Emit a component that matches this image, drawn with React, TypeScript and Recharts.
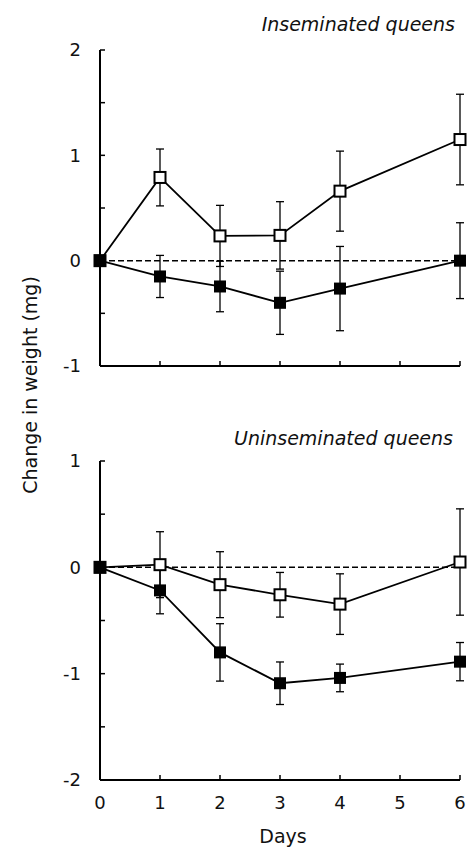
import { LineChart, Line, XAxis, YAxis, ErrorBar, ReferenceLine } from 'recharts';

// days sampled (no measurement on day 5)
const days = [0, 1, 2, 3, 4, 6];

// Inseminated queens
const insOpen = [0, 0.79, 0.235, 0.24, 0.66, 1.15];
const insOpenErr = [0, 0.27, 0.29, 0.32, 0.38, 0.43];
const insFilled = [0, -0.15, -0.245, -0.4, -0.265, 0];
const insFilledErr = [0, 0.2, 0.24, 0.3, 0.4, 0.36];

// Uninseminated queens
const unOpen = [0, 0.025, -0.163, -0.258, -0.346, 0.05];
const unOpenErr = [0, 0.31, 0.31, 0.21, 0.285, 0.5];
const unFilled = [0, -0.217, -0.8, -1.09, -1.04, -0.887];
const unFilledErr = [0, 0.22, 0.27, 0.2, 0.13, 0.18];

const xTicks = [0, 1, 2, 3, 4, 5, 6];
const topTicks = [-1, -0.5, 0, 0.5, 1, 1.5, 2];
const bottomTicks = [-2, -1.5, -1, -0.5, 0, 0.5, 1];

const FONT = '"DejaVu Sans", sans-serif';

const build = (open: number[], openErr: number[], filled: number[], filledErr: number[]) =>
  days.map((d, i) => ({
    day: d,
    open: open[i],
    openErr: openErr[i],
    filled: filled[i],
    filledErr: filledErr[i],
  }));

const topData = build(insOpen, insOpenErr, insFilled, insFilledErr);
const bottomData = build(unOpen, unOpenErr, unFilled, unFilledErr);

const OpenSquare = (props: any) => {
  const { cx, cy, index } = props;
  if (cx == null || cy == null) return <g key={`o${index}`} />;
  return (
    <rect key={`o${index}`} x={cx - 5.5} y={cy - 5.5} width={11} height={11}
      fill="#fff" stroke="#000" strokeWidth={2} />
  );
};

const FilledSquare = (props: any) => {
  const { cx, cy, index } = props;
  if (cx == null || cy == null) return <g key={`f${index}`} />;
  return <rect key={`f${index}`} x={cx - 6} y={cy - 6} width={12} height={12} fill="#000" />;
};

const intOnly = (v: number) => (Number.isInteger(v) ? String(v) : '');

function Panel({ data, domain, ticks, showX, height, margin }: any) {
  return (
    <LineChart width={467} height={height} data={data} margin={margin}>
      <XAxis
        dataKey="day"
        type="number"
        domain={[0, 6]}
        ticks={xTicks}
        interval={0}
        axisLine={{ stroke: '#000', strokeWidth: 2 }}
        tickLine={{ stroke: '#000', strokeWidth: 1.5 }}
        tickSize={-5}
        tickMargin={21}
        height={showX ? 40 : 1}
        tickFormatter={showX ? (v: number) => String(v) : () => ''}
        tick={{ fill: '#111', fontSize: 18, fontFamily: FONT }}
      />
      <YAxis
        type="number"
        domain={domain}
        ticks={ticks}
        interval={0}
        width={100}
        axisLine={{ stroke: '#000', strokeWidth: 2 }}
        tickLine={{ stroke: '#000', strokeWidth: 1.5 }}
        tickSize={-5}
        tickMargin={24}
        tickFormatter={intOnly}
        tick={{ fill: '#111', fontSize: 18, fontFamily: FONT }}
      />
      <ReferenceLine y={0} stroke="#000" strokeWidth={1.5} strokeDasharray="6 3" />
      <Line
        dataKey="open"
        stroke="#000"
        strokeWidth={1.8}
        dot={OpenSquare}
        activeDot={false}
        isAnimationActive={false}
      >
        <ErrorBar dataKey="openErr" direction="y" width={4} stroke="#000" strokeWidth={1.3} />
      </Line>
      <Line
        dataKey="filled"
        stroke="#000"
        strokeWidth={1.8}
        dot={FilledSquare}
        activeDot={false}
        isAnimationActive={false}
      >
        <ErrorBar dataKey="filledErr" direction="y" width={4} stroke="#000" strokeWidth={1.3} />
      </Line>
    </LineChart>
  );
}

export default function App() {
  return (
    <div style={{ position: 'absolute', left: 0, top: 0, width: 467, height: 849, background: '#fff' }}>
      <div style={{ position: 'absolute', left: 0, top: 0 }}>
        <Panel
          data={topData}
          domain={[-1, 2]}
          ticks={topTicks}
          showX={false}
          height={385}
          margin={{ top: 50, right: 7, bottom: 18, left: 0 }}
        />
      </div>
      <div style={{ position: 'absolute', left: 0, top: 400 }}>
        <Panel
          data={bottomData}
          domain={[-2, 1]}
          ticks={bottomTicks}
          showX={true}
          height={449}
          margin={{ top: 61, right: 7, bottom: 29, left: 0 }}
        />
      </div>
      <svg
        width={467}
        height={849}
        style={{ position: 'absolute', left: 0, top: 0, pointerEvents: 'none' }}
        fontFamily={FONT}
        fill="#111"
      >
        <text x={455} y={31} textAnchor="end" fontSize={19} fontStyle="italic">
          Inseminated queens
        </text>
        <text x={453} y={445} textAnchor="end" fontSize={19} fontStyle="italic">
          Uninseminated queens
        </text>
        <text transform="translate(37,385) rotate(-90)" textAnchor="middle" fontSize={19}>
          Change in weight (mg)
        </text>
        <text x={283} y={843} textAnchor="middle" fontSize={19}>
          Days
        </text>
      </svg>
    </div>
  );
}
